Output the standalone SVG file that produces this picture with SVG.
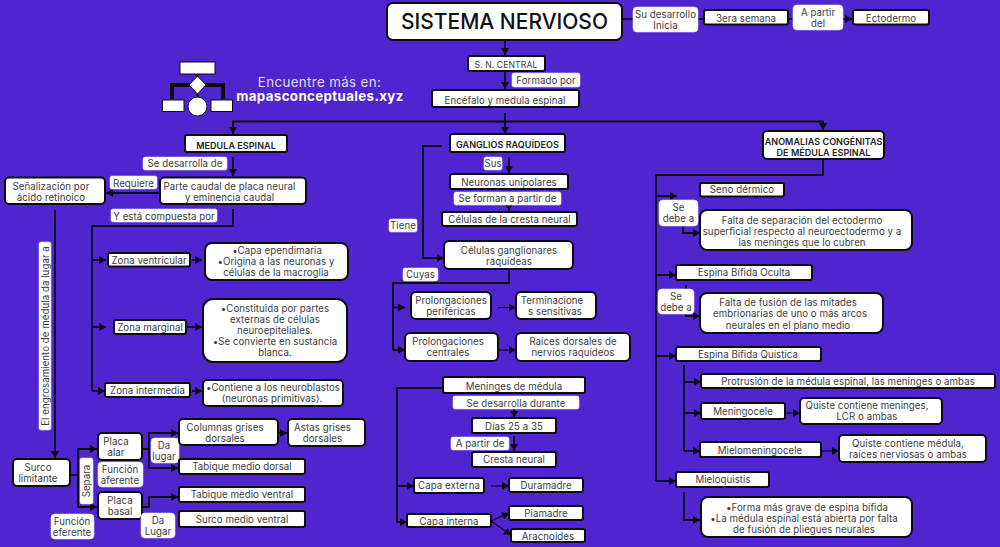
<svg xmlns="http://www.w3.org/2000/svg" width="1000" height="547" viewBox="0 0 1000 547">
<style>
text{font-family:"Inter","Liberation Sans",sans-serif;font-size:9.7px;letter-spacing:.05px;fill:#404040;text-anchor:middle}
.n{fill:#fff;stroke:#0b0b14;stroke-width:2}
.l{fill:#fff;stroke:#e4dcfb;stroke-width:.6}
.c{fill:none;stroke:#0b0b14;stroke-width:1.8;marker-end:url(#a)}
.p{fill:none;stroke:#0b0b14;stroke-width:1.8}
.b{font-weight:600;fill:#222;font-size:9px}
</style>
<defs><marker id="a" markerUnits="userSpaceOnUse" markerWidth="8" markerHeight="8" refX="7" refY="4" orient="auto"><path d="M0 0L7 4L0 8z" fill="#0b0b14"/></marker></defs>
<rect width="1000" height="547" fill="#4f25cf"/>
<g id="logo">
<path d="M172 99V85H223V99" fill="none" stroke="#0b0b14" stroke-width="4"/>
<path d="M197.500 74V98" stroke="#0b0b14" stroke-width="2"/>
<g fill="#fff" stroke="#0b0b14" stroke-width="1">
<rect x="180" y="62" width="35" height="12"/><path d="M197.500 76L206 85L197.500 94L189 85z"/><rect x="162.500" y="100" width="21.500" height="11.500"/><rect x="211" y="100" width="21.500" height="11.500"/><circle cx="197.500" cy="106.500" r="9.500"/></g>
<text x="319.500" y="87" style="font-size:13.300px;fill:#e0dcf5;letter-spacing:.38px">Encuentre más en:</text>
<text x="320" y="101" style="font-size:13.300px;font-weight:700;fill:#fff;letter-spacing:.38px">mapasconceptuales.xyz</text>
</g>
<g id="connectors">
<path class="c" d="M505 40V55"/><path class="c" d="M505 72V89"/>
<path class="p" d="M622 19H633M698 19H704M788 19H793"/><path class="c" d="M843 19H852"/>
<path class="p" d="M233 135V121.500H823V130"/><path class="c" d="M505 113V134"/><path class="c" d="M233 122V134"/><path class="c" d="M823 122V130"/>
<path class="c" d="M233 157V176"/><path class="c" d="M160 193H106"/>
<path class="p" d="M233 209V226H92V391"/><path class="c" d="M92 260H106"/><path class="c" d="M92 327H106"/><path class="c" d="M92 391H105"/>
<path class="c" d="M192 260H202"/><path class="c" d="M187 327H202"/><path class="c" d="M192 391H202"/>
<path class="c" d="M55 210V458"/>
<path class="p" d="M70 475H78"/><path class="c" d="M78 507V449H97"/><path class="c" d="M78 475V507H97"/>
<path class="c" d="M142 449H149V433H178"/><path class="c" d="M149 449V468H178"/><path class="c" d="M278 433H287"/>
<path class="c" d="M142 507H149V497H178"/>
<path class="c" d="M442 146H423V258H444"/>
<path class="c" d="M509 157V173"/><path class="c" d="M509 205V211"/>
<path class="p" d="M509 269V283H393V350"/><path class="c" d="M393 307.500H405"/><path class="c" d="M393 350H405"/>
<path class="c" d="M498 307.500H516" style="stroke-width:1.200"/><path class="c" d="M498 350H516" style="stroke-width:1.200"/>
<path class="c" d="M443 388H397V522H407"/><path class="c" d="M397 486H414"/>
<path class="c" d="M514 409V418"/><path class="c" d="M514 436V451"/>
<path class="c" d="M491 486H509" style="stroke-width:1.200"/><path class="c" d="M491 521L509 513" style="stroke-width:1.200"/><path class="c" d="M491 521L511 535" style="stroke-width:1.200"/>
<path class="p" d="M823 159V175H656V481"/><path class="c" d="M656 196H677"/><path class="c" d="M656 275H676"/><path class="c" d="M656 356H676"/><path class="c" d="M656 481H676"/>
<path class="c" d="M683 226V233H700"/><path class="c" d="M686 285V316H700"/>
<path class="p" d="M684 365V451"/><path class="c" d="M684 382H701"/><path class="c" d="M684 413H701"/><path class="c" d="M684 451H700"/>
<path class="c" d="M786 413H800" style="stroke-width:1.200"/><path class="c" d="M822 451H839" style="stroke-width:1.200"/>
<path class="c" d="M684 492V520H700"/>
</g>
<g id="sistema"><rect class="n" x="387" y="3" width="235" height="37" rx="6"/><text x="504.500" y="29" textLength="207" lengthAdjust="spacingAndGlyphs" style="font-size:22px;font-weight:500;fill:#111;letter-spacing:0">SISTEMA NERVIOSO</text></g>
<g id="su-desarrollo"><rect class="l" x="633" y="7" width="65" height="25" rx="4"/><text x="665.500" y="17.500">Su desarrollo</text><text x="665.500" y="28.500">Inicia</text></g>
<g id="tercera"><rect class="n" x="704" y="10" width="84" height="14.500" rx="2"/><text x="746" y="21.500">3era semana</text></g>
<g id="a-partir-del"><rect class="l" x="793" y="5" width="50" height="25" rx="4"/><text x="818" y="15.500">A partir</text><text x="818" y="26.500">del</text></g>
<g id="ectodermo"><rect class="n" x="853" y="10" width="76" height="14.500" rx="2"/><text x="891" y="21.500">Ectodermo</text></g>
<g id="sn-central"><rect class="n" x="468" y="56" width="77" height="15" rx="2"/><text x="506" y="68" style="font-size:8.700px">S. N. CENTRAL</text></g>
<g id="formado-por"><rect class="l" x="512" y="73" width="68" height="14" rx="2"/><text x="546" y="83.500">Formado por</text></g>
<g id="encefalo"><rect class="n" x="432" y="90" width="147" height="17" rx="2"/><text x="505" y="104">Encéfalo y medula espinal</text></g>
<g id="medula"><rect class="n" x="185" y="135" width="102" height="17" rx="2"/><text class="b" x="236" y="148.500">MEDULA ESPINAL</text></g>
<g id="se-desarrolla"><rect class="l" x="143" y="157" width="84" height="13" rx="2"/><text x="185" y="167">Se desarrolla de</text></g>
<g id="parte-caudal"><rect class="n" x="160" y="177.500" width="146" height="26.500" rx="4"/><text x="229.500" y="189.500">Parte caudal de placa neural</text><text x="229.500" y="200.500">y eminencia caudal</text></g>
<g id="senalizacion"><rect class="n" x="5" y="177.500" width="100" height="26.500" rx="4"/><text x="51" y="189.500">Señalización por</text><text x="51" y="200.500">ácido retinoico</text></g>
<g id="requiere"><rect class="l" x="110" y="176" width="47" height="13" rx="2"/><text x="133.500" y="186.500">Requiere</text></g>
<g id="compuesta"><rect class="l" x="111" y="209" width="106" height="13" rx="2"/><text x="164" y="220">Y está compuesta por</text></g>
<g id="zona-ventricular"><rect class="n" x="108" y="253" width="82" height="13.500" rx="2"/><text x="149" y="263.500">Zona ventricular</text></g>
<g id="capa-ependimaria"><rect class="n" x="205" y="243" width="143" height="37" rx="7"/><text x="277" y="254">•Capa ependimaria</text><text x="276" y="265">•Origina a las neuronas y</text><text x="276" y="276">células de la macroglia</text></g>
<g id="zona-marginal"><rect class="n" x="114" y="320" width="72" height="14" rx="2"/><text x="150" y="330.500">Zona marginal</text></g>
<g id="constituida"><rect class="n" x="203" y="299" width="144" height="63" rx="10"/><text x="275" y="312">•Constituida por partes</text><text x="275" y="323">externas de células</text><text x="275" y="334">neuroepiteliales.</text><text x="275" y="345">•Se convierte en sustancia</text><text x="275" y="356">blanca.</text></g>
<g id="zona-intermedia"><rect class="n" x="105" y="383" width="85" height="14" rx="2"/><text x="147.500" y="394">Zona intermedia</text></g>
<g id="contiene"><rect class="n" x="203" y="380" width="140" height="26" rx="4"/><text x="273" y="391">•Contiene a los neuroblastos</text><text x="272" y="402">(neuronas primitivas).</text></g>
<g id="engrosamiento"><rect class="l" x="39" y="242" width="12" height="188" rx="2"/><text transform="translate(48.500 336) rotate(-90)">El engrosamiento de médula da lugar a</text></g>
<g id="surco-limitante"><rect class="n" x="13" y="459" width="57" height="27" rx="4"/><text x="38" y="471">Surco</text><text x="38" y="482">limitante</text></g>
<g id="separa"><rect class="l" x="80" y="458" width="13" height="46" rx="2"/><text transform="translate(90 481) rotate(-90)">Separa</text></g>
<g id="placa-alar"><rect class="n" x="98" y="433" width="44" height="27" rx="4"/><text x="116" y="445">Placa</text><text x="116" y="456">alar</text></g>
<g id="funcion-aferente"><rect class="l" x="98" y="462" width="45" height="25" rx="4"/><text x="120" y="472.500">Función</text><text x="120" y="483.500">aferente</text></g>
<g id="placa-basal"><rect class="n" x="98" y="492" width="44" height="27" rx="4"/><text x="120" y="504">Placa</text><text x="120" y="515">basal</text></g>
<g id="funcion-eferente"><rect class="l" x="51" y="514" width="43" height="25" rx="4"/><text x="72" y="524.500">Función</text><text x="72" y="535.500">eferente</text></g>
<g id="da-lugar-1"><rect class="l" x="151" y="438" width="28" height="25" rx="4"/><text x="164" y="448.500">Da</text><text x="164" y="459.500">lugar</text></g>
<g id="columnas"><rect class="n" x="179" y="419" width="99" height="26" rx="4"/><text x="225" y="430.500">Columnas grises</text><text x="225" y="441.500">dorsales</text></g>
<g id="astas"><rect class="n" x="288" y="419" width="77" height="27" rx="4"/><text x="322.500" y="431">Astas grises</text><text x="322.500" y="442">dorsales</text></g>
<g id="tabique-dorsal"><rect class="n" x="179" y="459" width="126" height="15" rx="2"/><text x="242" y="470">Tabique medio dorsal</text></g>
<g id="tabique-ventral"><rect class="n" x="179" y="487" width="126" height="15" rx="2"/><text x="242" y="498">Tabique medio ventral</text></g>
<g id="surco-ventral"><rect class="n" x="179" y="511" width="126" height="16" rx="2"/><text x="242" y="523">Surco medio ventral</text></g>
<g id="da-lugar-2"><rect class="l" x="141" y="513" width="34" height="25" rx="4"/><text x="158" y="523.500">Da</text><text x="158" y="534.500">Lugar</text></g>
<g id="ganglios"><rect class="n" x="450" y="134" width="115" height="18" rx="2"/><text class="b" x="507.500" y="147.500">GANGLIOS RAQUÍDEOS</text></g>
<g id="tiene"><rect class="l" x="389" y="219" width="28" height="13" rx="2"/><text x="403" y="229">Tiene</text></g>
<g id="sus"><rect class="l" x="484" y="157" width="18" height="13" rx="2"/><text x="493" y="167">Sus</text></g>
<g id="neuronas"><rect class="n" x="450" y="174" width="118" height="15" rx="2"/><text x="509" y="185.500">Neuronas unipolares</text></g>
<g id="se-forman"><rect class="l" x="454" y="192" width="107" height="13" rx="2"/><text x="507.500" y="202">Se forman a partir de</text></g>
<g id="celulas-cresta"><rect class="n" x="442" y="212" width="135" height="14" rx="2"/><text x="509.500" y="222.500">Células de la cresta neural</text></g>
<g id="celulas-ganglionares"><rect class="n" x="444" y="241" width="129" height="28" rx="5"/><text x="509" y="253.500">Células ganglionares</text><text x="509" y="264.500">raquídeas</text></g>
<g id="cuyas"><rect class="l" x="403" y="268" width="35" height="13" rx="2"/><text x="420.500" y="278">Cuyas</text></g>
<g id="prolongaciones-perifericas"><rect class="n" x="411" y="292" width="80" height="27" rx="5"/><text x="451" y="304">Prolongaciones</text><text x="451" y="315">periféricas</text></g>
<g id="prolongaciones-centrales"><rect class="n" x="405" y="333" width="93" height="28" rx="5"/><text x="448" y="345">Prolongaciones</text><text x="448" y="356">centrales</text></g>
<g id="terminaciones"><rect class="n" x="516" y="292" width="80" height="27" rx="5"/><text x="552" y="304">Terminacione</text><text x="555" y="315">s sensitivas</text></g>
<g id="raices"><rect class="n" x="516" y="333" width="114" height="28" rx="5"/><text x="573" y="345">Raíces dorsales de</text><text x="573" y="356">nervios raquídeos</text></g>
<g id="meninges"><rect class="n" x="443" y="377" width="142" height="16" rx="2"/><text x="514" y="390">Meninges de médula</text></g>
<g id="se-desarrolla-durante"><rect class="l" x="453" y="396" width="126" height="13" rx="2"/><text x="516" y="406.500">Se desarrolla durante</text></g>
<g id="dias"><rect class="n" x="472" y="418" width="84" height="15" rx="2"/><text x="514" y="430">Días 25 a 35</text></g>
<g id="a-partir-de"><rect class="l" x="451" y="437" width="58" height="13" rx="2"/><text x="480" y="447">A partir de</text></g>
<g id="cresta"><rect class="n" x="472" y="452" width="84" height="15" rx="2"/><text x="514" y="463">Cresta neural</text></g>
<g id="capa-externa"><rect class="n" x="414" y="478" width="70" height="15" rx="2"/><text x="449" y="489">Capa externa</text></g>
<g id="duramadre"><rect class="n" x="509" y="478" width="74" height="14" rx="2"/><text x="546" y="488.500">Duramadre</text></g>
<g id="capa-interna"><rect class="n" x="407" y="514" width="84" height="13" rx="2"/><text x="449" y="524.500">Capa interna</text></g>
<g id="piamadre"><rect class="n" x="509" y="506" width="74" height="14" rx="2"/><text x="546" y="516.500">Piamadre</text></g>
<g id="aracnoides"><rect class="n" x="511" y="529" width="74" height="13" rx="2"/><text x="548" y="539.500">Aracnoides</text></g>
<g id="anomalias"><rect class="n" x="763" y="131" width="121" height="28" rx="4"/><text class="b" x="823.500" y="144.500">ANOMALIAS CONGÉNITAS</text><text class="b" x="823.500" y="155.500">DE MÉDULA ESPINAL</text></g>
<g id="seno"><rect class="n" x="700" y="183" width="84" height="13.500" rx="2"/><text x="742" y="193">Seno dérmico</text></g>
<g id="se-debe-1"><rect class="l" x="659" y="200" width="39" height="26" rx="4"/><text x="678.500" y="211">Se</text><text x="678.500" y="222">debe a</text></g>
<g id="falta-separacion"><rect class="n" x="700" y="210" width="212" height="40" rx="7"/><text x="802" y="223.500">Falta de separación del ectodermo</text><text x="802" y="234.500">superficial respecto al neuroectodermo y a</text><text x="802" y="245.500">las meninges que lo cubren</text></g>
<g id="espina-oculta"><rect class="n" x="676" y="265" width="136" height="15" rx="2"/><text x="744" y="276">Espina Bífida Oculta</text></g>
<g id="se-debe-2"><rect class="l" x="658" y="289" width="36" height="25" rx="4"/><text x="676" y="299.500">Se</text><text x="676" y="310.500">debe a</text></g>
<g id="falta-fusion"><rect class="n" x="700" y="293" width="183" height="40" rx="7"/><text x="788" y="306">Falta de fusión de las mitades</text><text x="790" y="317">embrionarias de uno o más arcos</text><text x="788" y="328.500">neurales en el plano medio</text></g>
<g id="espina-quistica"><rect class="n" x="676" y="347" width="145" height="14" rx="2"/><text x="748" y="358">Espina Bífida Quística</text></g>
<g id="protrusion"><rect class="n" x="701" y="374" width="294" height="14" rx="2"/><text x="848" y="384.500">Protrusión de la médula espinal, las meninges o ambas</text></g>
<g id="meningocele"><rect class="n" x="701" y="403" width="84" height="16" rx="2"/><text x="743" y="415">Meningocele</text></g>
<g id="quiste-1"><rect class="n" x="800" y="398" width="142" height="26" rx="4"/><text x="867" y="409">Quiste contiene meninges,</text><text x="867" y="420">LCR o ambas</text></g>
<g id="mielomeningocele"><rect class="n" x="700" y="442" width="121" height="15" rx="2"/><text x="760" y="454">Mielomeningocele</text></g>
<g id="quiste-2"><rect class="n" x="839" y="435" width="147" height="27" rx="4"/><text x="908" y="447">Quiste contiene médula,</text><text x="908" y="458">raíces nerviosas o ambas</text></g>
<g id="mieloquistis"><rect class="n" x="676" y="472" width="93" height="15" rx="2"/><text x="723" y="483">Mieloquistis</text></g>
<g id="forma"><rect class="n" x="701" y="497" width="211" height="40" rx="7"/><text x="807" y="510.500">•Forma más grave de espina bífida</text><text x="804" y="521.500">•La médula espinal está abierta por falta</text><text x="804" y="532.500">de fusión de pliegues neurales</text></g>
</svg>
